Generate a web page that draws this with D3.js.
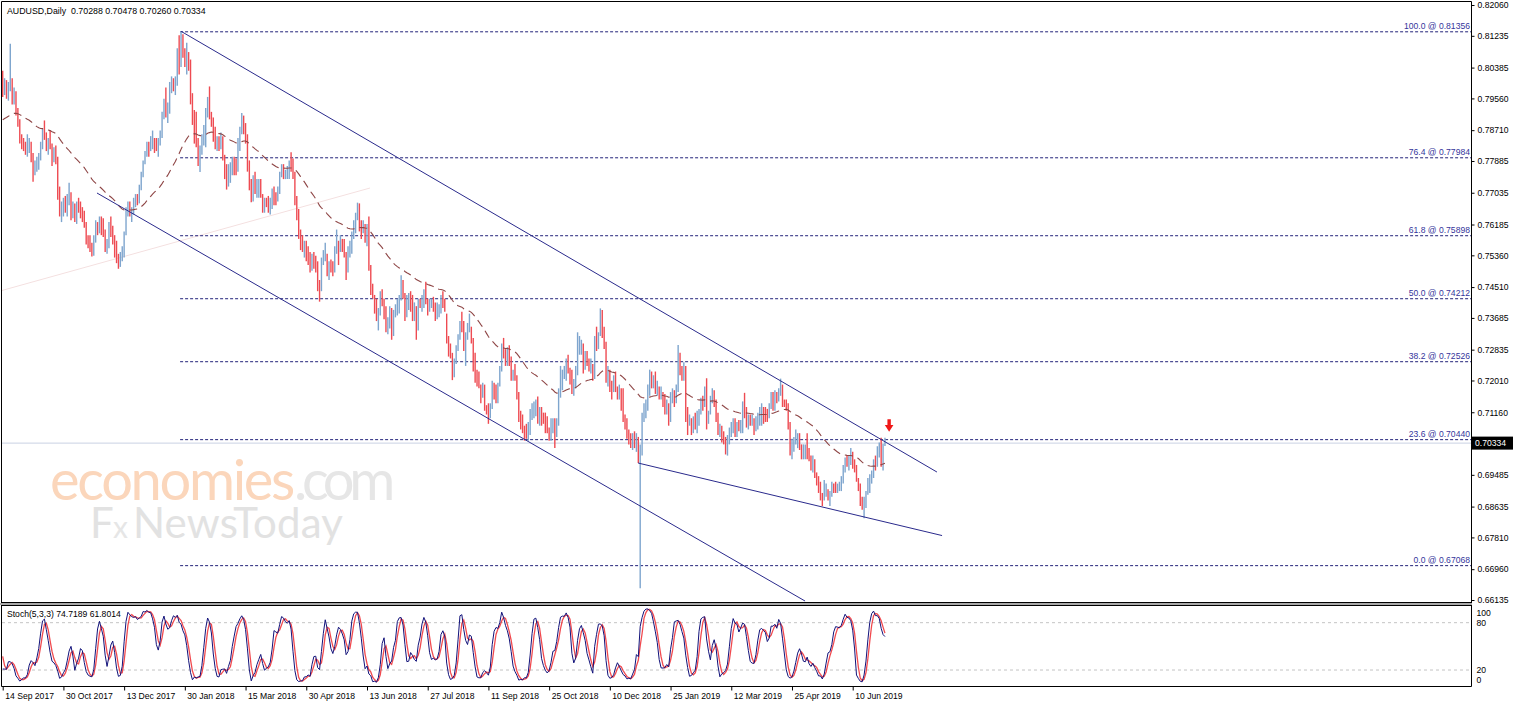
<!DOCTYPE html>
<html><head><meta charset="utf-8">
<script src="https://cdn.jsdelivr.net/npm/d3@7"></script>
<style>body{margin:0;background:#fff;}svg{display:block;}text{font-family:"Liberation Sans",Arial,sans-serif;}</style>
</head><body><svg id="c" width="1515" height="706"></svg>
<script>
// ---------- DATA ----------
const symbolTitle = "AUDUSD,Daily";
const lastOHLC = ["0.70288","0.70478","0.70260","0.70334"];
const stochTitle = "Stoch(5,3,3) 74.7189 61.8014";
const lastPrice = 0.70334;
// daily rows [high, low, close] in pips (x 0.0001); open = previous close
// 2017: first 51 rows (5 Jul - 13 Sep) are history before the visible window
const warmupCount = 51;
const bars2017 = [
[7632,7585,7598],[7630,7583,7610],[7623,7566,7600],
[7632,7590,7618],[7660,7610,7640],[7710,7620,7700],[7720,7675,7705],[7820,7700,7815],
[7835,7790,7820],[7920,7810,7910],[7925,7880,7900],[7990,7875,7955],[7960,7900,7905],
[7930,7880,7915],[7940,7880,7925],[7985,7900,7960],[8066,7950,7975],[8000,7950,7990],
[8005,7960,7995],[8000,7950,7960],[7990,7940,7975],[7985,7935,7945],[7960,7910,7930],
[7940,7890,7905],[7960,7895,7920],[7925,7860,7875],[7910,7850,7860],[7900,7850,7885],
[7895,7835,7840],[7860,7808,7830],[7905,7820,7895],[7935,7870,7910],[7945,7890,7935],
[7945,7905,7925],[7935,7880,7905],[7940,7890,7925],[7935,7890,7915],[7960,7900,7950],
[7970,7930,7955],[7965,7905,7935],[7940,7890,7905],[7960,7880,7950],[7990,7930,7975],
[7980,7945,7960],[7990,7940,7975],[8020,7960,8010],[8070,8000,8060],[8125,8040,8090],
[8080,8020,8040],[8050,7990,8010],[8025,7985,8005],
// visible from 14 Sep 2017
[8030,7960,7990],[8010,7965,8000],
[8005,7955,7965],[8000,7950,7990],[8102,7975,8000],[8010,7940,7960],[7985,7940,7975],
[7975,7910,7920],[7930,7880,7890],[7900,7835,7850],[7860,7820,7840],[7850,7815,7830],
[7840,7805,7815],[7860,7800,7830],[7850,7810,7835],[7840,7785,7795],[7810,7733,7765],
[7790,7750,7775],[7800,7760,7790],[7810,7765,7800],[7840,7790,7830],[7875,7820,7865],
[7897,7845,7860],[7865,7815,7830],[7850,7805,7840],[7870,7820,7830],[7835,7775,7800],
[7825,7785,7815],[7830,7780,7790],[7800,7685,7700],[7720,7640,7655],[7680,7625,7660],
[7690,7640,7675],[7695,7650,7660],[7700,7640,7690],[7730,7670,7690],[7705,7630,7650],
[7680,7635,7660],[7675,7625,7635],[7680,7620,7670],[7690,7650,7665],[7680,7635,7650],
[7665,7625,7645],[7655,7610,7620],[7625,7565,7580],[7590,7555,7575],[7590,7545,7555],
[7570,7533,7545],[7590,7535,7580],[7630,7570,7620],[7625,7590,7605],[7640,7595,7620],
[7640,7590,7600],[7635,7585,7595],[7605,7545,7560],[7580,7540,7565],[7625,7555,7610],
[7640,7585,7600],[7615,7565,7580],[7590,7530,7560],[7575,7515,7520],[7540,7500,7510],
[7545,7505,7535],[7560,7520,7540],[7600,7530,7595],[7665,7590,7655],[7680,7640,7665],
[7680,7640,7655],[7665,7625,7660],[7690,7645,7680],[7700,7665,7690],[7700,7670,7680],
[7725,7675,7720],[7760,7710,7750],[7790,7745,7785],[7815,7780,7805]
];
const bars2018 = [
[7840,7800,7835],[7840,7800,7825],[7855,7815,7845],[7870,7820,7845],
[7850,7810,7835],[7850,7815,7820],[7850,7800,7840],[7870,7830,7860],[7920,7850,7910],
[7955,7900,7935],[7985,7905,7915],[7945,7890,7935],[8000,7915,7990],[8015,7970,8000],
[8010,7975,7995],[8015,7965,8000],[8090,7990,8080],[8125,8020,8060],[8136,8040,8100],
[8128,8065,8085],[8090,8040,8050],[8105,8020,8060],[8080,8030,8040],[8060,7940,7950],
[7970,7885,7895],[7925,7835,7890],[7920,7825,7835],[7850,7775,7800],[7830,7759,7815],
[7860,7805,7850],[7885,7830,7875],[7930,7825,7915],[7960,7905,7945],[7988,7900,7910],
[7920,7880,7900],[7905,7840,7850],[7880,7820,7830],[7855,7815,7840],[7855,7815,7830],
[7865,7820,7850],[7855,7790,7800],[7805,7740,7760],[7780,7712,7740],[7780,7720,7770],
[7785,7730,7770],[7800,7750,7790],[7800,7750,7780],[7795,7750,7770],[7850,7760,7840],
[7880,7815,7870],[7917,7860,7890],[7910,7860,7880],[7890,7835,7840],[7860,7760,7775],
[7790,7710,7720],[7740,7678,7690],[7750,7680,7740],[7760,7700,7710],[7740,7690,7720],
[7740,7690,7730],[7740,7690,7695],[7700,7650,7660],[7690,7650,7680],[7690,7665,7675],
[7695,7650,7660],[7690,7645,7680],[7715,7660,7700],[7720,7670,7695],[7705,7670,7690],
[7720,7680,7700],[7760,7700,7755],[7780,7745,7770],[7780,7740,7750],[7765,7740,7760],
[7775,7740,7770],[7790,7740,7780],[7812,7760,7775],[7795,7740,7750],[7760,7670,7680],
[7695,7630,7640],[7660,7580,7590],[7605,7550,7570],[7590,7545,7560],[7575,7530,7565],
[7575,7520,7530],[7560,7510,7520],[7545,7490,7510],[7540,7495,7535],[7545,7500,7525],
[7535,7490,7500],[7520,7440,7455],[7470,7412,7450],[7530,7440,7520],[7550,7510,7535],
[7570,7520,7540],[7540,7480,7490],[7520,7470,7510],[7525,7490,7505],[7520,7480,7500],
[7560,7490,7550],[7605,7540,7570],[7575,7510,7560],[7590,7545,7575],[7580,7545,7555],
[7580,7530,7545],[7545,7470,7500],[7560,7490,7550],[7575,7530,7565],[7600,7540,7590],
[7630,7580,7620],[7650,7595,7640],[7677,7630,7665],[7675,7600,7610],[7630,7580,7605],
[7630,7595,7610],[7620,7570,7580],[7620,7560,7600],[7640,7495,7500],[7510,7430,7445],
[7460,7420,7430],[7430,7380,7395],[7420,7360,7370],[7395,7335,7385],[7440,7375,7430],
[7445,7400,7410],[7420,7365,7375],[7400,7330,7340],[7370,7325,7350],[7400,7340,7390],
[7395,7310,7330],[7390,7320,7380],[7405,7370,7390],[7420,7375,7400],[7430,7380,7420],
[7483,7415,7460],[7470,7420,7425],[7435,7360,7375],[7430,7370,7400],[7435,7390,7420],
[7440,7385,7410],[7430,7360,7370],[7410,7360,7390],[7400,7310,7360],[7420,7335,7405],
[7420,7395,7400],[7430,7385,7415],[7445,7395,7440],[7465,7405,7410],[7420,7375,7395],
[7420,7385,7410],[7420,7395,7410],[7425,7385,7400],[7410,7360,7380],[7410,7365,7390],
[7405,7370,7395],[7430,7380,7425],[7440,7395,7410],[7420,7385,7390],[7380,7300,7310],
[7320,7265,7285],[7300,7260,7270],[7275,7202,7225],[7260,7210,7245],[7295,7245,7285],
[7325,7280,7320],[7360,7310,7355],[7385,7330,7350],[7360,7280,7290],[7330,7240,7320],
[7355,7310,7340],[7380,7330,7340],[7345,7300,7310],[7315,7225,7240],[7275,7195,7225],
[7230,7185,7200],[7225,7180,7190],[7190,7140,7170],[7195,7155,7180],[7190,7120,7130],
[7135,7110,7120],[7140,7085,7110],[7140,7100,7130],[7200,7125,7190],[7195,7150,7170],
[7190,7140,7150],[7195,7140,7190],[7240,7185,7235],[7300,7225,7290],[7315,7260,7270],
[7285,7240,7250],[7290,7240,7280],[7295,7240,7255],[7265,7200,7220],[7230,7200,7225],
[7245,7200,7210],[7215,7150,7160],[7170,7090,7100],[7120,7070,7090],[7110,7060,7070],
[7080,7040,7065],[7085,7045,7055],[7090,7040,7065],[7125,7055,7115],[7140,7095,7115],
[7145,7100,7135],[7150,7105,7140],[7158,7085,7095],[7130,7080,7110],[7130,7080,7100],
[7115,7085,7090],[7115,7060,7080],[7105,7060,7070],[7075,7040,7060],[7100,7040,7080],
[7100,7060,7085],[7100,7020,7040],[7100,7050,7090],[7180,7080,7170],[7240,7155,7200],
[7230,7175,7220],[7240,7205,7225],[7260,7200,7250],[7270,7220,7230],[7235,7190,7220],
[7230,7165,7175],[7205,7160,7195],[7240,7180,7230],[7330,7215,7280],[7320,7270,7295],
[7310,7270,7295],[7300,7220,7240],[7280,7230,7270],[7280,7240,7255],[7260,7225,7230],
[7260,7220,7240],[7245,7200,7210],[7320,7205,7310],[7345,7280,7305],[7330,7285,7305],
[7394,7320,7370],[7390,7315,7330],[7345,7285,7300],[7305,7195,7210],[7240,7185,7220],
[7230,7170,7180],[7200,7150,7170],[7215,7170,7200],[7225,7170,7180],[7185,7150,7165],
[7190,7150,7165],[7180,7120,7140],[7180,7090,7100],[7110,7070,7085],[7100,7045,7055],
[7070,7030,7045],[7060,7020,7035],[7060,7015,7045],[7065,7020,7040],
[7060,7010,7050]
];
const bars2019 = [
[7050,6980,7000],[7030,6645,7010],[7115,7000,7105],
[7140,7090,7130],[7150,7100,7130],[7190,7120,7180],[7230,7160,7200],[7225,7180,7195],
[7215,7180,7200],[7225,7165,7175],[7200,7160,7175],[7185,7150,7165],[7185,7150,7170],
[7170,7130,7150],[7165,7110,7130],[7150,7110,7140],[7140,7080,7095],[7170,7090,7160],
[7180,7140,7165],[7175,7130,7150],[7190,7140,7180],[7296,7170,7265],[7275,7215,7230],
[7240,7200,7225],[7250,7200,7240],[7240,7090,7100],[7130,7055,7080],[7110,7080,7095],
[7100,7055,7070],[7105,7060,7095],[7115,7070,7090],[7120,7060,7100],[7125,7080,7120],
[7155,7110,7145],[7160,7120,7140],[7185,7130,7175],[7207,7070,7090],[7120,7085,7110],
[7160,7110,7145],[7180,7140,7165],[7175,7130,7140],[7150,7090,7095],[7115,7055,7065],
[7085,7050,7070],[7080,7035,7065],[7065,7030,7045],[7050,7003,7030],[7055,7000,7045],
[7075,7030,7065],[7090,7050,7075],[7100,7060,7090],[7100,7050,7065],[7090,7050,7085],
[7095,7065,7080],[7095,7060,7090],[7145,7060,7135],[7168,7100,7130],[7130,7075,7095],
[7110,7070,7095],[7110,7080,7090],[7110,7080,7095],[7100,7055,7080],[7105,7065,7095],
[7115,7070,7100],[7130,7080,7105],[7140,7080,7120],[7130,7085,7115],[7130,7090,7110],
[7125,7090,7105],[7140,7100,7130],[7170,7125,7165],[7170,7120,7130],[7175,7120,7165],
[7170,7140,7160],[7180,7145,7170],[7206,7160,7185],[7190,7130,7145],[7150,7130,7140],
[7150,7120,7135],[7140,7070,7080],[7090,7000,7015],[7045,6990,7020],[7050,7010,7040],
[7070,7030,7050],[7060,7020,7050],[7060,7015,7025],[7030,6990,7000],[7030,6990,7020],
[7030,6990,7020],[7060,6990,7010],[7020,6985,6995],[7000,6960,6990],[7000,6955,6995],
[6990,6940,6945],[6955,6920,6935],[6945,6900,6920],[6930,6880,6885],[6900,6865,6870],
[6935,6880,6905],[6925,6890,6905],[6910,6880,6885],[6905,6865,6900],[6930,6890,6920],
[6925,6900,6915],[6930,6900,6910],[6925,6900,6915],[6930,6905,6920],[6945,6905,6935],
[6975,6925,6970],[6995,6955,6990],[7000,6970,6975],[7000,6960,6990],[7020,6975,7005],
[7010,6965,6970],[6990,6955,6965],[6975,6930,6935],[6940,6905,6915],[6925,6865,6870],
[6890,6855,6860],[6890,6832,6880],[6905,6860,6900],[6940,6895,6925],[6950,6900,6940],
[6960,6925,6955],[6990,6940,6985],[7000,6960,6970],[7025,6970,7020],[7035,6995,7020],
[7048,6970,6975],[7032,6960,7028.8],[7047.8,7026,7033.4]
];
const dateLabels = ["14 Sep 2017","30 Oct 2017","13 Dec 2017","30 Jan 2018","15 Mar 2018","30 Apr 2018","13 Jun 2018","27 Jul 2018","11 Sep 2018","25 Oct 2018","10 Dec 2018","25 Jan 2019","12 Mar 2019","25 Apr 2019","10 Jun 2019"];
const barsPerDateLabel = 32;
const priceTicks = [0.82060,0.81235,0.80385,0.79560,0.78710,0.77885,0.77035,0.76185,0.75360,0.74510,0.73685,0.72835,0.72010,0.71160,0.69485,0.68635,0.67810,0.66960,0.66135];
const fibLevels = ["100.0","76.4","61.8","50.0","38.2","23.6","0.0"];
const fibPrices = [0.81356,0.77984,0.75898,0.74212,0.72526,0.70440,0.67068];
const fibStartBar = 93.5;
const stochTicks = [100,80,20,0];
const stochLevels = [80,20];
const maPeriod = 50; // exponential
// analysis lines: [barIndex, price]
const channelUpper = [[94,0.81356],[492.4,0.69560]];
const channelLower = [[49.7,0.77028],[422.9,0.66107]];
const wedgeLower  = [[334.9,0.69801],[495.1,0.67860]];
const faintLine   = [[-1.4,0.74405],[193.6,0.77162]];
const arrowAt = [467.2,0.70639];
const watermarkParts = [
  {t:"economies", x:50,  y:500, size:56, fill:"#fbd6bb", w:243},
  {t:".com",      x:294, y:500, size:56, fill:"#e6e6e6", w:96},
  {t:"F",         x:90,  y:538, size:42, fill:"#e2e2e2", w:22},
  {t:"x",         x:113, y:538, size:30, fill:"#e6e6e6", w:18},
  {t:"NewsToday", x:133, y:538, size:42, fill:"#e2e2e2", w:210}
];

// ---------- BUILD ----------
const all = bars2017.concat(bars2018, bars2019).map(r => ({h:r[0]/1e4, l:r[1]/1e4, c:r[2]/1e4}));
all.forEach((d,k) => { d.o = k ? all[k-1].c : d.c; d.i = k - warmupCount; });
// EMA
const alpha = 2/(maPeriod+1);
all.forEach((d,k) => { d.ma = k ? all[k-1].ma + alpha*(d.c - all[k-1].ma) : d.c; });
// Stochastic 5,3,3 (MT4 style)
all.forEach((d,k) => {
  if (k >= 4) { const w = all.slice(k-4,k+1); d.ll = d3.min(w,e=>e.l); d.hh = d3.max(w,e=>e.h); }
});
all.forEach((d,k) => {
  if (k >= 6) { let n=0, m=0; for (let j=k-2;j<=k;j++){ n += all[j].c-all[j].ll; m += all[j].hh-all[j].ll; } d.k = m>0 ? 100*n/m : 100; }
});
all.forEach((d,k) => { if (k >= 8) d.d = (all[k].k+all[k-1].k+all[k-2].k)/3; });
const vis = all.filter(d => d.i >= 0);

const plotL = 2, plotR = 1471, mainT = 2, mainB = 602, stT = 606, stB = 686;
const x = d3.scaleLinear().domain([0, 448]).range([2.7, 852.7]);
const y = d3.scaleLinear().domain([0.66135, 0.82060]).range([600, 5]);
const ys = d3.scaleLinear().domain([0, 100]).range([685.8, 606.9]);

const svg = d3.select("#c");
svg.append("rect").attr("width",1515).attr("height",706).attr("fill","#fff");
const defs = svg.append("defs");
defs.append("clipPath").attr("id","cm").append("rect").attr("x",plotL).attr("y",mainT).attr("width",plotR-plotL).attr("height",mainB-mainT);
defs.append("clipPath").attr("id","cs").append("rect").attr("x",plotL).attr("y",stT).attr("width",plotR-plotL).attr("height",stB-stT);

const gm = svg.append("g").attr("clip-path","url(#cm)");

// watermark (one text object)
const wm = gm.append("text").style("font-family","Lato, 'Noto Sans', sans-serif");
watermarkParts.forEach(p => {
  const ts = wm.append("tspan").attr("x",p.x).attr("y",p.y).attr("font-size",p.size).attr("fill",p.fill).text(p.t);
  const len = ts.node().getComputedTextLength();
  ts.attr("letter-spacing", ((p.w - len)/p.t.length).toFixed(2));
});

// current price line
gm.append("line").attr("x1",plotL).attr("x2",plotR).attr("y1",y(lastPrice)).attr("y2",y(lastPrice)).attr("stroke","#c9d1e3").attr("stroke-width",1);

// faint trendline
const lineGen = d3.line().x(p => x(p[0])).y(p => y(p[1]));
gm.append("path").attr("d",lineGen(faintLine)).attr("stroke","#f4e0e0").attr("fill","none");

// fib lines
fibPrices.forEach((p,k) => {
  gm.append("line").attr("x1",x(fibStartBar)).attr("x2",plotR).attr("y1",y(p)+0.5).attr("y2",y(p)+0.5)
    .attr("stroke","#22227a").attr("stroke-dasharray","3,2").attr("stroke-width",1);
  gm.append("text").attr("x",plotR-1).attr("y",y(p)-2).attr("text-anchor","end").attr("font-size",8.6)
    .attr("fill","#35359c").text(fibLevels[k] + " @ " + p.toFixed(5));
});

// bars
gm.append("g").selectAll("line").data(vis).join("line")
  .attr("x1",d=>x(d.i)).attr("x2",d=>x(d.i)).attr("y1",d=>y(d.h)).attr("y2",d=>y(d.l))
  .attr("stroke",d=> d.c >= d.o ? "#7ea5ce" : "#ee4b52").attr("stroke-width",1.4);

// MA
gm.append("path").datum(vis).attr("d", d3.line().x(d=>x(d.i)).y(d=>y(d.ma)))
  .attr("fill","none").attr("stroke","#8e4545").attr("stroke-width",1.1).attr("stroke-dasharray","8,5");

// channel lines
[channelUpper, channelLower, wedgeLower].forEach(l => {
  gm.append("path").attr("d",lineGen(l)).attr("stroke","#2a2a8c").attr("stroke-width",1).attr("fill","none");
});

// arrow
const ax = x(arrowAt[0]), ay = y(arrowAt[1]);
gm.append("path").attr("transform",`translate(${ax},${ay})`)
  .attr("d","M-1.7,-12.5L1.7,-12.5L1.7,-6.8L4.3,-6.8L0,0L-4.3,-6.8L-1.7,-6.8Z").attr("fill","#f01818");

// title
svg.append("text").attr("x",7).attr("y",13.5).attr("font-size",8.8).attr("fill","#000")
  .attr("xml:space","preserve").text(symbolTitle + "  " + lastOHLC.join(" "));

// stochastic
const gs = svg.append("g").attr("clip-path","url(#cs)");
stochLevels.forEach(v => gs.append("line").attr("x1",plotL).attr("x2",plotR).attr("y1",ys(v)).attr("y2",ys(v))
  .attr("stroke","#c4c4c4").attr("stroke-dasharray","3,3"));
gs.append("path").datum(vis).attr("d", d3.line().x(d=>x(d.i)).y(d=>ys(d.d)))
  .attr("fill","none").attr("stroke","#ee2a30").attr("stroke-width",1.3).attr("stroke-opacity",0.85);
gs.append("path").datum(vis).attr("d", d3.line().x(d=>x(d.i)).y(d=>ys(d.k)))
  .attr("fill","none").attr("stroke","#12127a").attr("stroke-width",1);
svg.append("text").attr("x",7).attr("y",617).attr("font-size",8.6).attr("fill","#000").text(stochTitle);

// frame
const frame = svg.append("g").attr("stroke","#000").attr("stroke-width",1).attr("fill","none");
frame.append("line").attr("x1",1.5).attr("x2",1.5).attr("y1",1.5).attr("y2",686.5);
frame.append("line").attr("x1",1.5).attr("x2",plotR+0.5).attr("y1",1.5).attr("y2",1.5);
frame.append("line").attr("x1",plotR+0.5).attr("x2",plotR+0.5).attr("y1",1.5).attr("y2",686.5);
frame.append("line").attr("x1",1.5).attr("x2",plotR+0.5).attr("y1",602.5).attr("y2",602.5);
svg.append("rect").attr("x",0).attr("y",603).attr("width",plotR+1).attr("height",2).attr("fill","#a8a8a8");
frame.append("line").attr("x1",1.5).attr("x2",plotR+0.5).attr("y1",605.5).attr("y2",605.5);
frame.append("line").attr("x1",1.5).attr("x2",plotR+0.5).attr("y1",686.5).attr("y2",686.5);

// price axis
const pa = svg.append("g").attr("transform",`translate(${plotR+0.5},0)`)
  .call(d3.axisRight(y).tickValues(priceTicks).tickFormat(d=>d.toFixed(5)).tickSize(3).tickPadding(3));
pa.select(".domain").remove();
pa.selectAll("text").attr("font-size",8.6).attr("fill","#000").style("font-family","'Liberation Sans',Arial,sans-serif");
pa.selectAll("line").attr("stroke","#000");

// last price box
svg.append("rect").attr("x",plotR+1).attr("y",y(lastPrice)-6.5).attr("width",41).attr("height",13).attr("fill","#000");
svg.append("text").attr("x",plotR+4).attr("y",y(lastPrice)+3).attr("font-size",8.6).attr("fill","#fff").text(lastPrice.toFixed(5));

// stoch axis
const sa = svg.append("g").attr("transform",`translate(${plotR+0.5},0)`)
  .call(d3.axisRight(ys).tickValues(stochTicks).tickSize(0).tickPadding(5));
sa.select(".domain").remove();
sa.selectAll("text").attr("font-size",8.6).attr("fill","#000").style("font-family","'Liberation Sans',Arial,sans-serif")
  .attr("dy", d => d===100 ? "0.95em" : d===0 ? "-0.35em" : "0.32em");

// date axis
const da = svg.append("g").attr("transform",`translate(0,${stB+0.5})`)
  .call(d3.axisBottom(x).tickValues(dateLabels.map((_,k)=>k*barsPerDateLabel)).tickFormat((d,k)=>dateLabels[k]).tickSize(4).tickPadding(2));
da.select(".domain").remove();
da.selectAll("line").attr("stroke","#000");
da.selectAll("text").attr("text-anchor","start").attr("x",2).attr("font-size",8.6).attr("fill","#000").style("font-family","'Liberation Sans',Arial,sans-serif");
</script></body></html>
